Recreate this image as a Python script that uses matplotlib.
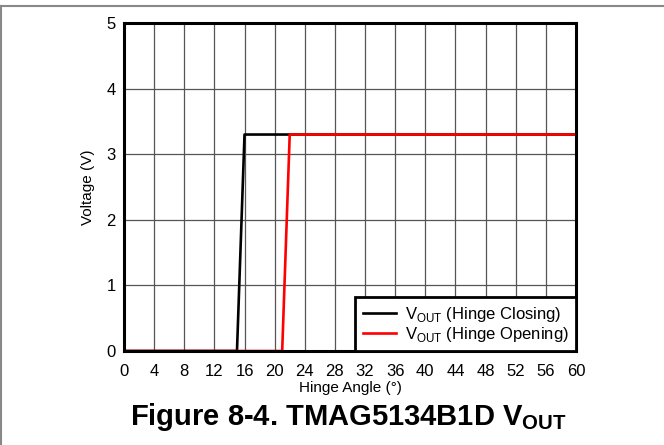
import matplotlib
matplotlib.use("Agg")
import matplotlib.pyplot as plt
from matplotlib.lines import Line2D

plt.rcParams['font.family'] = ['Liberation Sans', 'DejaVu Sans']
plt.rcParams['mathtext.fontset'] = 'custom'
plt.rcParams['mathtext.rm'] = 'Liberation Sans'
plt.rcParams['mathtext.bf'] = 'Liberation Sans:bold'

# hinge angle (deg) vs output voltage
closing_angle = [0, 15, 16, 60]
closing_vout = [0, 0, 3.3, 3.3]
opening_angle = [0, 21, 22, 60]
opening_vout = [0, 0, 3.3, 3.3]

x_ticks = list(range(0, 61, 4))
y_ticks = [0, 1, 2, 3, 4, 5]

fig = plt.figure(figsize=(6.64, 4.45), dpi=100)
ax = fig.add_axes([0.1867, 0.2112, 0.6808, 0.7371])

ax.plot(closing_angle, closing_vout, color="black", lw=1.9,
        label=r"V$_{\rm OUT}$ (Hinge Closing)", zorder=3)
ax.plot(opening_angle, opening_vout, color="#ff0000", lw=1.9,
        label=r"V$_{\rm OUT}$ (Hinge Opening)", zorder=4)

ax.set_xlim(0, 60)
ax.set_ylim(0, 5)
ax.set_xticks(x_ticks)
ax.set_yticks(y_ticks)
ax.grid(True, color="#555555", lw=0.9)
ax.tick_params(length=0, labelsize=12)
ax.tick_params(axis="x", pad=9)
ax.tick_params(axis="y", pad=6)
for s in ax.spines.values():
    s.set_linewidth(2.2)
    s.set_zorder(5)

ax.set_xlabel("Hinge Angle (°)", fontsize=11, labelpad=2)
ax.set_ylabel("Voltage (V)", fontsize=11, labelpad=8)

leg = ax.legend(loc="lower right", fontsize=12, fancybox=False,
                borderaxespad=0, handlelength=2.0, handletextpad=0.5,
                labelspacing=0.05, borderpad=0.45, framealpha=1)
leg.get_frame().set_edgecolor("black")
leg.get_frame().set_linewidth(2.0)
leg.set_zorder(6)

fig.text(0.524, 0.045, r"Figure 8-4. TMAG5134B1D V$_{\mathbf{OUT}}$",
         ha="center", va="baseline", fontsize=21, fontweight="bold")

# gray page frame on top and left
fig.add_artist(Line2D([0, 1], [0.9875, 0.9875], color="#888888", lw=1.5,
                      transform=fig.transFigure))
fig.add_artist(Line2D([0.001, 0.001], [0, 0.9875], color="#888888", lw=1.5,
                      transform=fig.transFigure))

fig.savefig("out.png", dpi=100)
